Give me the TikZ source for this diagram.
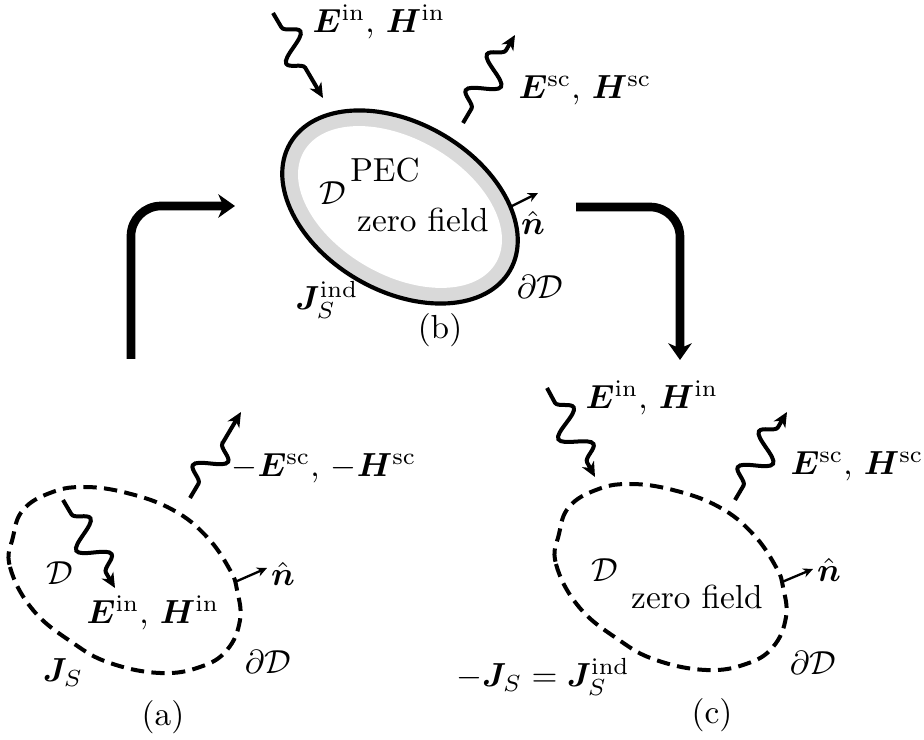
\documentclass[tikz,border=0pt]{standalone}
\usepackage{amsmath,bm}
\usetikzlibrary{decorations.pathmorphing,arrows.meta}
\newcommand{\blobshape}{plot[smooth cycle,tension=0.7] coordinates {(-112,-43) (-115,-13) (-92,30) (-52,63) (-15,83) (35,93) (75,87) (102,70) (115,40) (112,10) (105,-10) (82,-43) (48,-70) (2,-87) (-42,-93) (-75,-87) (-102,-70)}}
\begin{document}
\begin{tikzpicture}[x=0.3pt,y=-0.3pt,
  wave/.style={decorate, decoration={snake, amplitude=4.3pt, segment length=12.5pt, pre length=5pt, post length=5pt}, line width=1.2pt, -{Stealth[length=4.4pt,width=4pt,inset=1.3pt]}},
  bigarrow/.style={line width=2.6pt, rounded corners=9pt, -{Stealth[length=5pt,width=7pt,inset=1.5pt]}},
  nvec/.style={line width=0.7pt, -{Stealth[length=3pt,width=2.8pt]}},
  dashblob/.style={line width=1.2pt, dash pattern=on 4pt off 2.2pt},
  lbl/.style={inner sep=0pt}]
\useasboundingbox (0,0) rectangle (924,740);

% ---------- (a)
\draw[dashblob, shift={(125,580)}] \blobshape;
\coordinate (aw1s) at (63,500);  \coordinate (aw1e) at (115,588);
\coordinate (aw2s) at (190,498); \coordinate (aw2e) at (241,412);
\draw[wave] (aw1s) -- (aw1e);
\draw[wave] (aw2s) -- (aw2e);
\coordinate (an0) at (235,582); \coordinate (an1) at (267,568);
\draw[nvec] (an0) -- (an1);
\node[lbl] (aEin) at (153,613) {$\bm{E}^{\mathrm{in}}$, $\bm{H}^{\mathrm{in}}$};
\node[lbl] (aD) at (60,573) {$\mathcal{D}$};
\node[lbl] (aEsc) at (324,468) {$-\bm{E}^{\mathrm{sc}}$, $-\bm{H}^{\mathrm{sc}}$};
\node[lbl] (an) at (283,574) {$\hat{\bm{n}}$};
\node[lbl] (adD) at (268,662) {$\partial\mathcal{D}$};
\node[lbl] (aJ) at (63,673) {$\bm{J}_S$};
\node[lbl] (alab) at (163,717) {(a)};

% ---------- (b)
\begin{scope}[shift={(400,207)}, rotate=-30]
  \fill[black!15] (0,0) ellipse [x radius=127, y radius=84];
  \fill[white] (0,0) ellipse [x radius=111, y radius=68];
  \draw[line width=1.25pt] (0,0) ellipse [x radius=127, y radius=84];
\end{scope}
\coordinate (bw1s) at (273,13);  \coordinate (bw1e) at (323,98);
\coordinate (bw2s) at (463,123); \coordinate (bw2e) at (515,35);
\draw[wave] (bw1s) -- (bw1e);
\draw[wave] (bw2s) -- (bw2e);
\coordinate (bn0) at (510,207); \coordinate (bn1) at (538,193);
\draw[nvec] (bn0) -- (bn1);
\node[lbl] (bEin) at (379,22) {$\bm{E}^{\mathrm{in}}$, $\bm{H}^{\mathrm{in}}$};
\node[lbl] (bEsc) at (585,90) {$\bm{E}^{\mathrm{sc}}$, $\bm{H}^{\mathrm{sc}}$};
\node[lbl] (bPEC) at (385,170) {PEC};
\node[lbl] (bD) at (333,193) {$\mathcal{D}$};
\node[lbl] (bzero) at (423,220) {zero field};
\node[lbl] (bn) at (533,223) {$\hat{\bm{n}}$};
\node[lbl] (bdD) at (540,287) {$\partial\mathcal{D}$};
\node[lbl] (bJ) at (327,300) {$\bm{J}_S^{\mathrm{ind}}$};
\node[lbl] (blab) at (440,330) {(b)};

% ---------- (c)
\draw[dashblob, shift={(671,577)}] \blobshape;
\coordinate (cw1s) at (547,388); \coordinate (cw1e) at (595,477);
\coordinate (cw2s) at (735,500); \coordinate (cw2e) at (787,412);
\draw[wave] (cw1s) -- (cw1e);
\draw[wave] (cw2s) -- (cw2e);
\coordinate (cn0) at (782,582); \coordinate (cn1) at (813,569);
\draw[nvec] (cn0) -- (cn1);
\node[lbl] (cEin) at (652,398) {$\bm{E}^{\mathrm{in}}$, $\bm{H}^{\mathrm{in}}$};
\node[lbl] (cEsc) at (857,466) {$\bm{E}^{\mathrm{sc}}$, $\bm{H}^{\mathrm{sc}}$};
\node[lbl] (cD) at (605,570) {$\mathcal{D}$};
\node[lbl] (czero) at (697,597) {zero field};
\node[lbl] (cn) at (829,570) {$\hat{\bm{n}}$};
\node[lbl] (cdD) at (813,663) {$\partial\mathcal{D}$};
\node[lbl] (cJ) at (543,677) {$-\bm{J}_S=\bm{J}_S^{\mathrm{ind}}$};
\node[lbl] (clab) at (712,715) {(c)};

% ---------- big arrows
\coordinate (L0) at (131,359); \coordinate (L1) at (235,206);
\coordinate (R0) at (576,207); \coordinate (R1) at (680,360);
\draw[bigarrow] (L0) |- (L1);
\draw[bigarrow] (R0) -| (R1);
\end{tikzpicture}
\end{document}
